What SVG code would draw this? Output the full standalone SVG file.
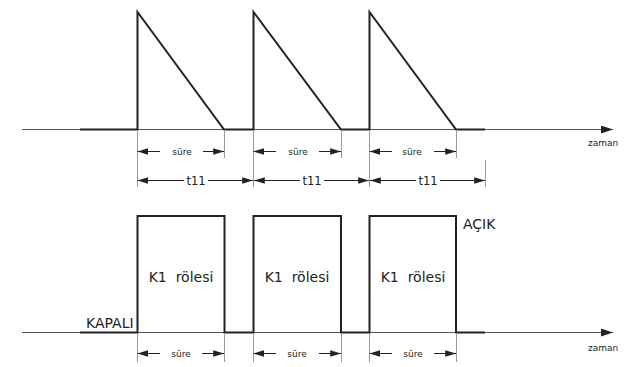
<svg xmlns="http://www.w3.org/2000/svg" width="632" height="367" viewBox="0 0 632 367">
  <style>
    .axis { stroke: #555; stroke-width: 1; fill: none; }
    .sig { stroke: #222; stroke-width: 2; fill: none; stroke-linejoin: miter; }
    .ext { stroke: #999; stroke-width: 1; fill: none; }
    .dim { stroke: #222; stroke-width: 1; fill: none; }
    .lbl { font-family: "DejaVu Sans", Verdana, sans-serif; fill: #222; }
    .small { font-size: 9px; }
    .mid { font-size: 11.5px; }
    .big { font-size: 14px; }
  </style>
  <defs>
    <marker id="ah" viewBox="0 0 10 6" refX="10" refY="3" markerWidth="11" markerHeight="6.5" markerUnits="userSpaceOnUse" orient="auto-start-reverse">
      <path d="M0,0 L10,3 L0,6 Z" fill="#222"/>
    </marker>
    <marker id="axh" viewBox="0 0 12 8" refX="12" refY="4" markerWidth="12" markerHeight="8" markerUnits="userSpaceOnUse" orient="auto">
      <path d="M0,0 L12,4 L0,8 Z" fill="#222"/>
    </marker>
  </defs>

  <rect width="632" height="367" fill="#fff"/>

  <!-- time axes -->
  <g id="axes">
    <line class="axis" x1="22" y1="129.5" x2="613" y2="129.5" marker-end="url(#axh)"/>
    <text class="lbl small" x="588" y="146">zaman</text>
    <line class="axis" x1="22" y1="332.5" x2="613" y2="332.5" marker-end="url(#axh)"/>
    <text class="lbl small" x="588" y="351">zaman</text>
  </g>

  <!-- sawtooth timer signal -->
  <g id="timer-signal">
    <path class="sig" d="M80,129.5 H137.5 V12 L224,129.5 H253.5 V12 L341,129.5 H369.5 V12 L456,129.5 H485"/>
  </g>

  <!-- relay K1 output pulses -->
  <g id="relay-signal">
    <path class="sig" d="M80,332.5 H137.5 V216 H224.5 V332.5 H253.5 V216 H341 V332.5 H369.5 V216 H456 V332.5 H485"/>
    <text class="lbl big" x="86" y="328">KAPALI</text>
    <text class="lbl big" x="463" y="229">AÇIK</text>
    <text class="lbl big" x="181" y="282" text-anchor="middle" xml:space="preserve">K1  rölesi</text>
    <text class="lbl big" x="297" y="282" text-anchor="middle" xml:space="preserve">K1  rölesi</text>
    <text class="lbl big" x="413" y="282" text-anchor="middle" xml:space="preserve">K1  rölesi</text>
  </g>

  <!-- extension lines -->
  <g id="extension-lines">
    <path class="ext" d="M137.5,130 V187 M253.5,130 V187 M369.5,130 V187 M224.5,130 V158 M341.5,130 V158 M456.5,130 V158 M485.5,160 V187"/>
    <path class="ext" d="M137.5,333 V362 M224.5,333 V362 M253.5,333 V362 M341.5,333 V362 M369.5,333 V362 M456.5,333 V362"/>
  </g>

  <!-- dimension arrows -->
  <g id="dimensions">
    <!-- süre, top -->
    <line class="dim" x1="160" y1="151.5" x2="137.5" y2="151.5" marker-end="url(#ah)"/>
    <line class="dim" x1="203" y1="151.5" x2="224" y2="151.5" marker-end="url(#ah)"/>
    <text class="lbl small" x="182" y="155" text-anchor="middle">süre</text>
    <line class="dim" x1="276" y1="151.5" x2="253.5" y2="151.5" marker-end="url(#ah)"/>
    <line class="dim" x1="319" y1="151.5" x2="341" y2="151.5" marker-end="url(#ah)"/>
    <text class="lbl small" x="298" y="155" text-anchor="middle">süre</text>
    <line class="dim" x1="392" y1="151.5" x2="369.5" y2="151.5" marker-end="url(#ah)"/>
    <line class="dim" x1="434" y1="151.5" x2="456" y2="151.5" marker-end="url(#ah)"/>
    <text class="lbl small" x="412" y="155" text-anchor="middle">süre</text>

    <!-- t11 -->
    <line class="dim" x1="184" y1="180.5" x2="137.5" y2="180.5" marker-end="url(#ah)"/>
    <line class="dim" x1="208" y1="180.5" x2="253" y2="180.5" marker-end="url(#ah)"/>
    <text class="lbl mid" x="196" y="184.5" text-anchor="middle">t11</text>
    <line class="dim" x1="300" y1="180.5" x2="254" y2="180.5" marker-end="url(#ah)"/>
    <line class="dim" x1="324" y1="180.5" x2="369" y2="180.5" marker-end="url(#ah)"/>
    <text class="lbl mid" x="312" y="184.5" text-anchor="middle">t11</text>
    <line class="dim" x1="416" y1="180.5" x2="370" y2="180.5" marker-end="url(#ah)"/>
    <line class="dim" x1="440" y1="180.5" x2="485" y2="180.5" marker-end="url(#ah)"/>
    <text class="lbl mid" x="428" y="184.5" text-anchor="middle">t11</text>

    <!-- süre, bottom -->
    <line class="dim" x1="160" y1="353.5" x2="137.5" y2="353.5" marker-end="url(#ah)"/>
    <line class="dim" x1="202" y1="353.5" x2="224" y2="353.5" marker-end="url(#ah)"/>
    <text class="lbl small" x="181" y="357" text-anchor="middle">süre</text>
    <line class="dim" x1="276" y1="353.5" x2="253.5" y2="353.5" marker-end="url(#ah)"/>
    <line class="dim" x1="319" y1="353.5" x2="341" y2="353.5" marker-end="url(#ah)"/>
    <text class="lbl small" x="297" y="357" text-anchor="middle">süre</text>
    <line class="dim" x1="392" y1="353.5" x2="369.5" y2="353.5" marker-end="url(#ah)"/>
    <line class="dim" x1="434" y1="353.5" x2="456" y2="353.5" marker-end="url(#ah)"/>
    <text class="lbl small" x="413" y="357" text-anchor="middle">süre</text>
  </g>
</svg>
